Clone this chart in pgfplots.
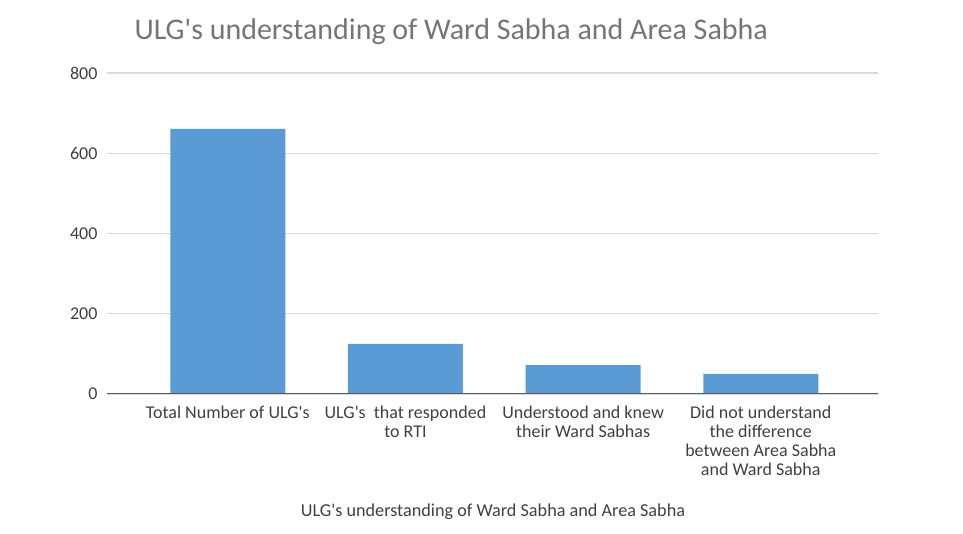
\documentclass[border=0pt]{standalone}
\usepackage{pgfplots}
\pgfplotsset{compat=1.18}
\usepackage{fontspec}
\setmainfont{Carlito}
\definecolor{barblue}{HTML}{5B9BD5}
\definecolor{gridgray}{HTML}{D9D9D9}
\definecolor{titlegray}{HTML}{757575}
\definecolor{textgray}{HTML}{404040}
\newcommand\q{\textquotesingle}
\begin{document}
\begin{tikzpicture}
\useasboundingbox (0pt,0pt) rectangle (963pt,534pt);
\begin{axis}[
    at={(107pt,140pt)}, anchor=south west,
    scale only axis,
    width=771pt, height=321pt,
    ymin=0, ymax=800,
    ytick={0,200,400,600,800},
    xmin=-0.68, xmax=3.66,
    xtick=data,
    xticklabels={
        {Total Number of ULG\q s},
        {ULG\q s\ \ that responded\\to RTI},
        {Understood and knew\\their Ward Sabhas},
        {Did not understand\\the difference\\between Area Sabha\\and Ward Sabha}},
    xticklabel style={align=center, font=\fontsize{18}{19}\selectfont, text=textgray},
    yticklabel style={font=\fontsize{18}{20}\selectfont, text=textgray},
    /pgf/number format/assume math mode=true,
    axis line style={draw=none},
    major tick length=0pt,
    ymajorgrids,
    grid style={gridgray, line width=1.2pt},
    ybar,
    bar width=115pt,
    xticklabel shift=8pt,
    yticklabel shift=6pt,
]
\addplot[fill=barblue, draw=none] coordinates {
    (0,661) (1,125) (2,72) (3,50)
};
\draw[color=black!65, line width=1.6pt] (axis cs:-0.68,0) -- (axis cs:3.66,0);
\end{axis}
\node[anchor=west, text=titlegray, font=\fontsize{30}{34}\selectfont] at (131pt,502pt) {ULG\q s understanding of Ward Sabha and Area Sabha};
\node[text=textgray, font=\fontsize{18.2}{20}\selectfont] at (493pt,22pt) {ULG\q s understanding of Ward Sabha and Area Sabha};
\end{tikzpicture}
\end{document}
